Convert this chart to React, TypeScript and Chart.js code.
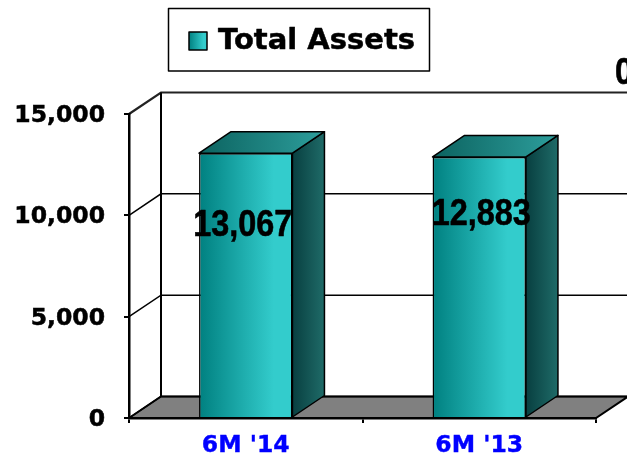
import React, { useEffect, useRef } from "react";
import { Chart, registerables } from "chart.js";

Chart.register(...registerables);

const categories = ["6M '14", "6M '13"];
const totalAssets = [13067, 12883];
const labelAnchorValues = [9480, 10020];
const strayLabel = "0";
const strayLabelValue = 17000;
const seriesName = "Total Assets";
const yTicks = [0, 5000, 10000, 15000];

const DX = 32;
const DY = 21.5;
const LABEL_SHIFT = [-3, 2];
const NARROW = "bold 37px 'Liberation Sans', sans-serif";
const NARROW_X = 0.875;
const TICKFONT = "'DejaVu Sans', sans-serif";

function hGrad(ctx: CanvasRenderingContext2D, x0: number, x1: number, stops: [number, string][]) {
  const g = ctx.createLinearGradient(x0, 0, x1, 0);
  stops.forEach(([p, c]) => g.addColorStop(p, c));
  return g;
}

const FRONT: [number, string][] = [[0, "#008080"], [0.8, "#33cccc"], [1, "#33cccc"]];
const TOP: [number, string][] = [[0, "#0c6360"], [1, "#2d9e9c"]];
const SIDE: [number, string][] = [[0, "#083f40"], [1, "#1f6b68"]];

function poly(ctx: CanvasRenderingContext2D, pts: number[][]) {
  ctx.beginPath();
  pts.forEach(([x, y], i) => (i ? ctx.lineTo(x, y) : ctx.moveTo(x, y)));
  ctx.closePath();
}

function narrowText(ctx: CanvasRenderingContext2D, s: string, x: number, y: number) {
  ctx.save();
  ctx.translate(x, y);
  ctx.scale(NARROW_X, 1);
  ctx.font = NARROW;
  ctx.lineWidth = 0.6;
  ctx.strokeStyle = "#000";
  ctx.fillStyle = "#000";
  ctx.fillText(s, 0, 0);
  ctx.strokeText(s, 0, 0);
  ctx.restore();
}

const wallsPlugin = {
  id: "walls",
  beforeDraw(chart: any) {
    const { ctx, chartArea: a, scales } = chart;
    ctx.save();
    // floor
    poly(ctx, [[a.left, a.bottom], [a.left + DX, a.bottom - DY], [a.right + DX, a.bottom - DY], [a.right, a.bottom]]);
    ctx.fillStyle = "#808080";
    ctx.fill();
    ctx.strokeStyle = "#000";
    ctx.lineWidth = 2;
    ctx.stroke();
    // back-wall and side-wall gridlines
    yTicks.forEach((v) => {
      const y = scales.y.getPixelForValue(v);
      ctx.lineWidth = v === 15000 ? 2.2 : 1.5;
      ctx.strokeStyle = v === 15000 ? "#222" : "#000";
      ctx.beginPath();
      ctx.moveTo(a.left, y);
      ctx.lineTo(a.left + DX, y - DY);
      ctx.lineTo(a.right + DX, y - DY);
      ctx.stroke();
    });
    ctx.lineWidth = 2;
    ctx.strokeStyle = "#000";
    ctx.beginPath();
    ctx.moveTo(a.left + DX, a.top - DY);
    ctx.lineTo(a.left + DX, a.bottom - DY);
    ctx.stroke();
    ctx.restore();
  },
};

const barsPlugin = {
  id: "bars3d",
  afterDatasetsDraw(chart: any) {
    const { ctx, scales } = chart;
    const bars = chart.getDatasetMeta(0).data;
    ctx.save();
    ctx.lineWidth = 1.5;
    ctx.strokeStyle = "#000";
    ctx.lineJoin = "round";
    bars.forEach((b: any) => {
      const l = b.x - b.width / 2;
      const r = b.x + b.width / 2;
      const t = b.y;
      const bt = b.base;
      poly(ctx, [[r, t], [r + DX, t - DY], [r + DX, bt - DY], [r, bt]]);
      ctx.fillStyle = hGrad(ctx, r, r + DX, SIDE);
      ctx.fill();
      ctx.stroke();
      poly(ctx, [[l, t], [l + DX, t - DY], [r + DX, t - DY], [r, t]]);
      ctx.fillStyle = hGrad(ctx, l, r + DX, TOP);
      ctx.fill();
      ctx.stroke();
    });
    // data labels
    ctx.textAlign = "center";
    ctx.textBaseline = "middle";
    bars.forEach((b: any, i: number) => {
      narrowText(ctx, totalAssets[i].toLocaleString("en-US"), b.x + LABEL_SHIFT[i], scales.y.getPixelForValue(labelAnchorValues[i]));
    });
    ctx.textAlign = "left";
    narrowText(ctx, strayLabel, chart.chartArea.right + 19, scales.y.getPixelForValue(strayLabelValue));
    // legend
    ctx.fillStyle = "#fff";
    ctx.strokeStyle = "#000";
    ctx.lineWidth = 1.5;
    ctx.fillRect(168.5, 8.5, 261, 62.5);
    ctx.strokeRect(168.5, 8.5, 261, 62.5);
    ctx.fillStyle = hGrad(ctx, 189, 207, FRONT);
    ctx.fillRect(189, 32, 18, 18);
    ctx.strokeRect(189, 32, 18, 18);
    ctx.fillStyle = "#000";
    ctx.strokeStyle = "#000";
    ctx.lineWidth = 0.5;
    ctx.font = `bold 29px ${TICKFONT}`;
    ctx.textBaseline = "middle";
    ctx.fillText(seriesName, 218, 41);
    ctx.strokeText(seriesName, 218, 41);
    ctx.restore();
  },
};

export default function App() {
  const ref = useRef<HTMLCanvasElement>(null);
  useEffect(() => {
    const chart = new Chart(ref.current!, {
      type: "bar",
      data: {
        labels: categories,
        datasets: [
          {
            label: seriesName,
            data: totalAssets,
            barPercentage: 0.4,
            categoryPercentage: 1,
            borderColor: "#000",
            borderWidth: 1.5,
            backgroundColor: (c: any) => {
              const s = c.chart.scales?.x;
              const x = s && c.dataIndex !== undefined ? s.getPixelForValue(c.dataIndex) : NaN;
              if (!Number.isFinite(x)) return "#33cccc";
              const w = 46.7;
              return hGrad(c.chart.ctx, x - w, x + w, FRONT);
            },
          },
        ],
      },
      options: {
        responsive: false,
        animation: false,
        layout: { padding: { top: 114, right: 31, left: 0, bottom: 0 } },
        plugins: { legend: { display: false }, tooltip: { enabled: false } },
        scales: {
          x: {
            afterFit: (s: any) => { s.height = 38; },
            grid: { display: true, drawOnChartArea: false, color: "#000", lineWidth: 2, tickLength: 5 },
            border: { display: true, color: "#000", width: 2.5 },
            ticks: {
              color: "#0000ff",
              padding: 9,
              maxRotation: 0,
              textStrokeColor: "#0000ff",
              textStrokeWidth: 0.4,
              font: { family: TICKFONT, weight: "bold", size: 23.5 },
            },
          },
          y: {
            min: 0,
            max: 15000,
            afterFit: (s: any) => { s.width = 129; },
            grid: { display: true, drawOnChartArea: false, color: "#000", lineWidth: 2, tickLength: 5 },
            border: { display: true, color: "#000", width: 2.5 },
            ticks: {
              stepSize: 5000,
              color: "#000",
              padding: 19,
              labelOffset: 2,
              textStrokeColor: "#000",
              textStrokeWidth: 0.5,
              callback: (v: any) => Number(v).toLocaleString("en-US"),
              font: { family: TICKFONT, weight: "bold", size: 23.5 },
            },
          },
        },
      } as any,
      plugins: [wallsPlugin, barsPlugin],
    });
    return () => chart.destroy();
  }, []);
  return (
    <div style={{ position: "fixed", left: 0, top: 0, width: 627, height: 456, background: "#fff" }}>
      <canvas ref={ref} width={627} height={456} style={{ display: "block" }} />
    </div>
  );
}
